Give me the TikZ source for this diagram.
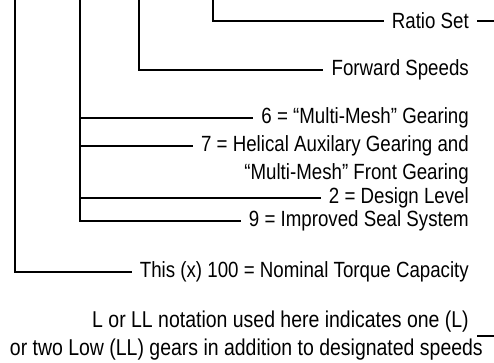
\documentclass[tikz,border=0pt]{standalone}
\usepackage{fontspec}
\setmainfont[FakeStretch=0.85]{Liberation Sans}
\usetikzlibrary{positioning}

\begin{document}
\begin{tikzpicture}[x=1pt, y=-1pt, line width=2.4pt,
	desc/.style={anchor=east, inner sep=0pt, font=\fontsize{22}{26}\selectfont},
	note/.style={desc, font=\fontsize{22.9}{27}\selectfont},
	lead/.style={shorten >=7pt}]

		\useasboundingbox (0,0) rectangle (494,362);

		% descriptions, right aligned
		\node[desc] (ratio) at (470,21) {Ratio Set};
		\node[desc] (fwd) at (470,70) {Forward Speeds};
		\node[desc] (six) at (470,118) {6 = ``Multi-Mesh'' Gearing};
		\node[desc] (seven) at (470,146) {7 = Helical Auxilary Gearing and};
		\node[desc] (sevenb) at (470,174) {``Multi-Mesh'' Front Gearing};
		\node[desc] (two) at (470,198) {2 = Design Level};
		\node[desc] (nine) at (470,221) {9 = Improved Seal System};
		\node[desc] (torque) at (470,272) {This (x) 100 = Nominal Torque Capacity};
		\node[note] (lnote) at (470,322) {L or LL notation used here indicates one (L)};
		\node[note] (lnoteb) at (484,350) {or two Low (LL) gears in addition to designated speeds};

		% tops of the trunks and free ends
		\coordinate (topA) at (15,-2);
		\coordinate (topB) at (80,-2);
		\coordinate (topC) at (139,-2);
		\coordinate (topD) at (213,-2);
		\coordinate (ratioEnd) at (494,21);
		\coordinate (lnoteEnd) at (494,336);
		\coordinate (lnoteStart) at (477,336);

		\draw[lead] (topD) |- (ratio.west);
		\draw[shorten <=7pt] (ratio.east) -- (ratioEnd);
		\draw[lead] (topC) |- (fwd.west);
		\draw[lead] (topB) |- (nine.west);
		\draw[lead] (topB |- six.west) -- (six.west);
		\draw[lead] (topB |- seven.west) -- (seven.west);
		\draw[lead] (topB |- two.west) -- (two.west);
		\draw[lead] (topA) |- (torque.west);
		\draw (lnoteStart) -- (lnoteEnd);

\end{tikzpicture}
\end{document}
